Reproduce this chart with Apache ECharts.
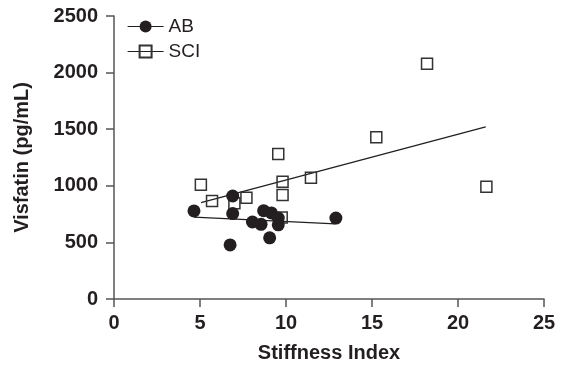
<!DOCTYPE html>
<html>
<head>
<meta charset="utf-8">
<script src="https://cdn.jsdelivr.net/npm/echarts@6/dist/echarts.min.js"></script>
<style>
  html, body { margin: 0; padding: 0; background: #fff; }
  #chart { width: 563px; height: 368px; }
</style>
</head>
<body>
<div id="chart"></div>
<script>
// values
const abX = [4.65, 6.75, 6.9, 6.9, 8.05, 8.55, 8.7, 9.05, 9.15, 9.55, 9.55, 12.9];
const abY = [778, 478, 910, 755, 680, 660, 780, 540, 760, 715, 655, 715];
const sciX = [5.05, 5.7, 7.0, 7.7, 9.55, 9.8, 9.8, 9.75, 11.45, 15.25, 18.2, 21.65];
const sciY = [1010, 865, 845, 895, 1280, 1035, 918, 720, 1072, 1428, 2078, 991];
const abFitX = [4.65, 12.87];
const abFitY = [723, 664];
const sciFitX = [5.06, 21.61];
const sciFitY = [851, 1521];

const ink = '#231f20';
const axisGray = '#555';
const font = '"Liberation Sans", Arial, sans-serif';

const pairs = (xs, ys) => xs.map((x, i) => [x, ys[i]]);

const chart = echarts.init(document.getElementById('chart'), null, { renderer: 'canvas' });

chart.setOption({
  animation: false,
  grid: { left: 114, right: 19, top: 16, bottom: 66 },
  legend: {
    orient: 'vertical',
    left: 122,
    top: 12,
    itemWidth: 36,
    itemHeight: 15,
    itemGap: 6,
    data: ['AB', 'SCI'],
    textStyle: { fontFamily: font, fontSize: 19, color: ink },
    lineStyle: { color: ink, width: 1.2, opacity: 1, type: 'solid' },
    selectedMode: false
  },
  xAxis: {
    type: 'value',
    min: 0, max: 25, interval: 5,
    name: 'Stiffness Index',
    nameLocation: 'middle',
    nameGap: 44,
    nameTextStyle: { fontFamily: font, fontSize: 20, fontWeight: 'bold', color: ink },
    axisLine: { show: true, lineStyle: { color: axisGray, width: 1.5 } },
    axisTick: { show: true, inside: false, length: 8, lineStyle: { color: axisGray, width: 1.5 } },
    axisLabel: { margin: 14, fontFamily: font, fontSize: 20, fontWeight: 'bold', color: ink },
    splitLine: { show: false }
  },
  yAxis: {
    type: 'value',
    min: 0, max: 2500, interval: 500,
    name: 'Visfatin (pg/mL)',
    nameLocation: 'middle',
    nameRotate: 90,
    nameGap: 82,
    nameTextStyle: { fontFamily: font, fontSize: 20, fontWeight: 'bold', color: ink },
    axisLine: { show: true, lineStyle: { color: axisGray, width: 1.5 } },
    axisTick: { show: true, inside: false, length: 8, lineStyle: { color: axisGray, width: 1.5 } },
    axisLabel: { margin: 16, fontFamily: font, fontSize: 20, fontWeight: 'bold', color: ink, formatter: v => String(v) },
    splitLine: { show: false }
  },
  series: [
    {
      name: 'SCI',
      type: 'line',
      data: pairs(sciX, sciY),
      symbol: 'rect',
      symbolSize: 11,
      showSymbol: true,
      color: ink,
      itemStyle: { color: 'rgba(255,255,255,0)', borderColor: '#333', borderWidth: 1.5 },
      lineStyle: { width: 0, opacity: 0 },
      emphasis: { disabled: true }
    },
    {
      name: 'sciFit',
      type: 'line',
      data: pairs(sciFitX, sciFitY),
      symbol: 'none',
      lineStyle: { color: ink, width: 1.3 },
      emphasis: { disabled: true }
    },
    {
      name: 'AB',
      type: 'line',
      data: pairs(abX, abY),
      symbol: 'circle',
      symbolSize: 13,
      showSymbol: true,
      color: ink,
      itemStyle: { color: ink, borderWidth: 0 },
      lineStyle: { width: 0, opacity: 0 },
      emphasis: { disabled: true }
    },
    {
      name: 'abFit',
      type: 'line',
      data: pairs(abFitX, abFitY),
      symbol: 'none',
      lineStyle: { color: ink, width: 1.3 },
      emphasis: { disabled: true }
    }
  ]
});
</script>
</body>
</html>
